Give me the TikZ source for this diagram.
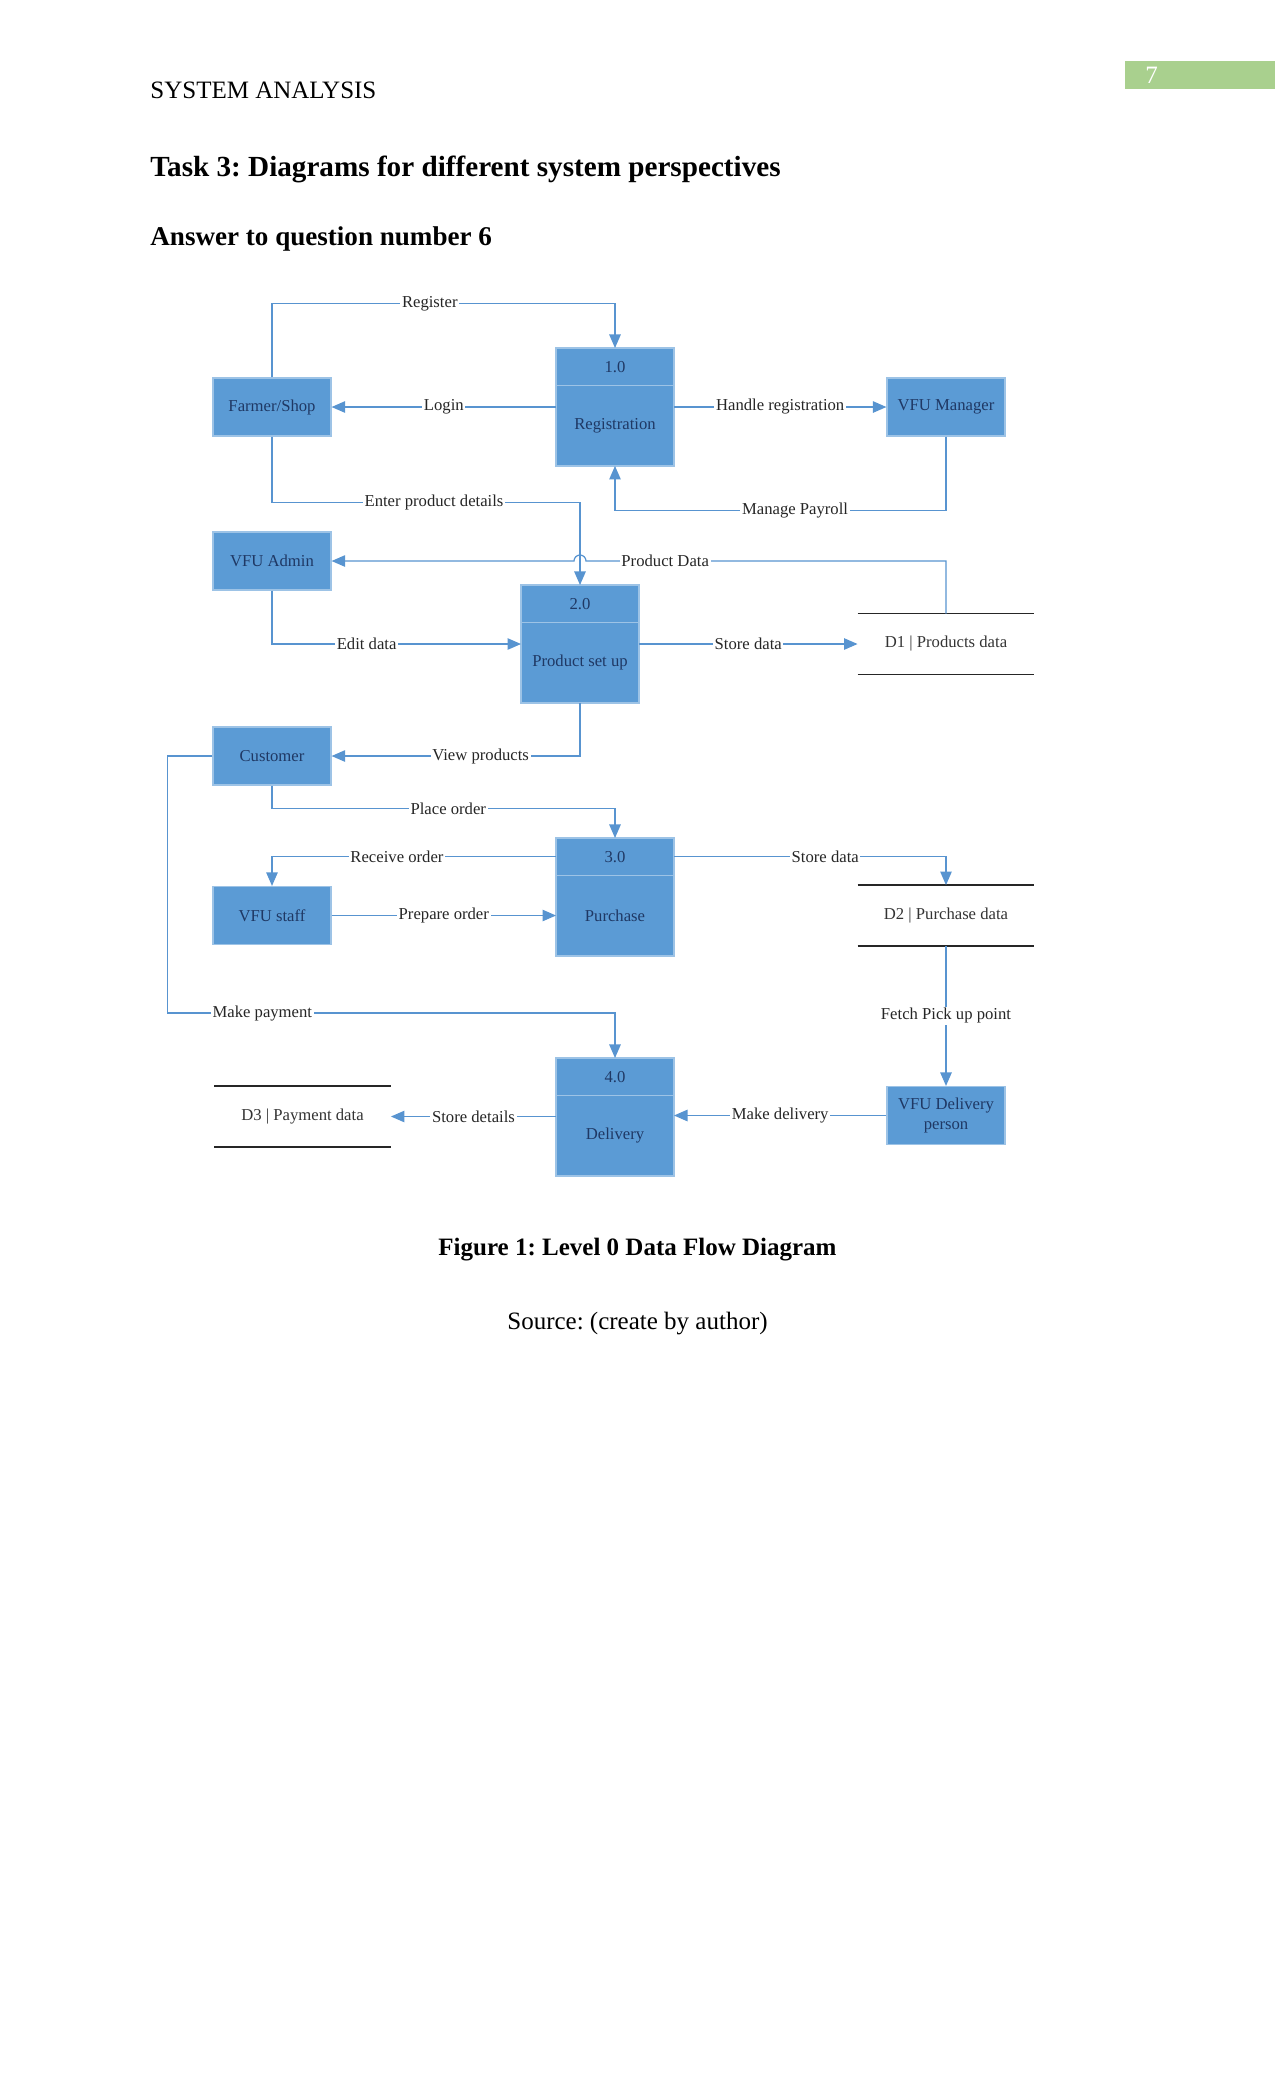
\documentclass[tikz,border=0pt]{standalone}
\usepackage{fontspec}
\setmainfont{Liberation Serif}
\usetikzlibrary{arrows.meta, positioning, calc}
\definecolor{boxblue}{RGB}{91,155,213}
\definecolor{edgeblue}{RGB}{157,195,230}
\definecolor{navytext}{RGB}{31,56,100}
\definecolor{flowblue}{RGB}{88,148,208}
\definecolor{pagegreen}{RGB}{169,208,142}
\frenchspacing

\begin{document}
\begin{tikzpicture}[
  x=0.48pt, y=-0.48pt,
  entity/.style={rectangle, draw=edgeblue, fill=boxblue, text=navytext,
                 line width=0.6pt, minimum width=56.6pt, minimum height=27.8pt,
                 font=\fontsize{8}{9.5}\selectfont, align=center, inner sep=1pt},
  prochead/.style={entity, minimum height=18pt, outer sep=0pt},
  procbody/.style={entity, minimum height=38.6pt, outer sep=0pt},
  store/.style={rectangle, minimum width=84.5pt, minimum height=28.8pt,
                font=\fontsize{8}{9.5}\selectfont, text=black!80},
  storeline/.style={black!85, line width=0.7pt},
  flow/.style={-{Triangle[length=6.5pt, width=5.5pt]}, flowblue, line width=0.6pt},
  lbl/.style={fill=white, inner sep=0.8pt, text=black!85, font=\fontsize{8}{9.5}\selectfont},
  pagetext/.style={inner sep=0pt, anchor=base west, font=\fontsize{12}{14}\selectfont},
]
\useasboundingbox (0,0) rectangle (1275,2100);

% Page header
\node[fill=pagegreen, anchor=west, minimum width=72pt, minimum height=13.7pt,
      text width=52.8pt, inner xsep=9.6pt, inner ysep=0pt, align=left,
      text=white, font=\fontsize{12}{14}\selectfont] (pagenum) at (1125,75) {7};
\node[pagetext] (runhead) at (150,98) {SYSTEM ANALYSIS};
\node[pagetext, font=\fontsize{14}{17}\selectfont\bfseries] (task) at (150,176.7)
  {Task 3: Diagrams for different system perspectives};
\node[pagetext, font=\fontsize{13}{16}\selectfont\bfseries] (answer) at (150,245)
  {Answer to question number 6};

% External entities
\node[entity] (fs) at (272,407) {Farmer/Shop};
\node[entity] (mgr) at (946,407) {VFU Manager};
\node[entity] (adm) at (272,561) {VFU Admin};
\node[entity] (cus) at (272,756) {Customer};
\node[entity] (stf) at (272,915.5) {VFU staff};
\node[entity] (dlv) at (946,1115.5) {VFU Delivery\\person};

% Processes
\node[prochead, anchor=north] (p1h) at (615,348) {1.0};
\node[procbody, below=0pt of p1h] (p1) {Registration};
\node[prochead, anchor=north] (p2h) at (580,585) {2.0};
\node[procbody, below=0pt of p2h] (p2) {Product set up};
\node[prochead, anchor=north] (p3h) at (615,838) {3.0};
\node[procbody, below=0pt of p3h] (p3) {Purchase};
\node[prochead, anchor=north] (p4h) at (615,1058) {4.0};
\node[procbody, below=0pt of p4h] (p4) {Delivery};

% Data stores
\node[store] (d1) at (946,644) {D1 | Products data};
\node[store] (d2) at (946,915.5) {D2 | Purchase data};
\node[store] (d3) at (302.5,1116.5) {D3 | Payment data};
\foreach \d in {d1,d2,d3}
  \draw[storeline] (\d.north west) -- (\d.north east) (\d.south west) -- (\d.south east);

% Flows
\draw[flow] (fs.north) -- ++(0,-74) -| node[lbl, pos=0.23] {Register} (p1h.north);
\draw[flow] (p1.west |- fs) -- node[lbl] {Login} (fs);
\draw[flow] (p1.east |- mgr) -- node[lbl] {Handle registration} (mgr);
\draw[flow] (mgr.south) -- ++(0,74) -| node[lbl, pos=0.228] {Manage Payroll} (p1.south);
\draw[flow] (fs.south) -- ++(0,66) -| node[lbl, pos=0.263] {Enter product details} (p2h.north);
\draw[flow] (d1.north) |- node[lbl, pos=0.89] {Product Data} ($(p2h.north |- adm)+(6,0)$)
  arc[start angle=0, end angle=-180, radius=6] -- (adm);
\draw[flow] (adm.south) |- node[lbl, pos=0.69] {Edit data} (p2.west |- d1);
\draw[flow] (p2.east |- d1) -- node[lbl] {Store data} (d1.west);
\draw[flow] (p2.south) |- node[lbl, pos=0.7] {View products} (cus);
\draw[flow] (cus.south) -- ++(0,23) -| node[lbl, pos=0.257] {Place order} (p3h.north);
\draw[flow] (p3h.west) -| node[lbl, pos=0.28] {Receive order} (stf.north);
\draw[flow] (stf) -- node[lbl] {Prepare order} (p3.west |- stf);
\draw[flow] (p3h.east) -| node[lbl, pos=0.278] {Store data} (d2.north);
\draw[flow] (d2.south) -- node[lbl] {Fetch Pick up point} (dlv.north);
\draw[flow] (dlv) -- node[lbl] {Make delivery} (p4.east |- dlv);
\draw[flow] (cus.west) -- ++(-45,0) -- ++(0,257) -| node[lbl, pos=0.106] {Make payment} (p4h.north);
\draw[flow] (p4.west |- d3) -- node[lbl] {Store details} (d3.east);

% Caption
\node[pagetext, anchor=base, font=\fontsize{12}{14}\selectfont\bfseries] (caption) at (637.5,1255)
  {Figure 1: Level 0 Data Flow Diagram};
\node[pagetext, anchor=base] (source) at (637.5,1329.3) {Source: (create by author)};

\end{tikzpicture}
\end{document}
